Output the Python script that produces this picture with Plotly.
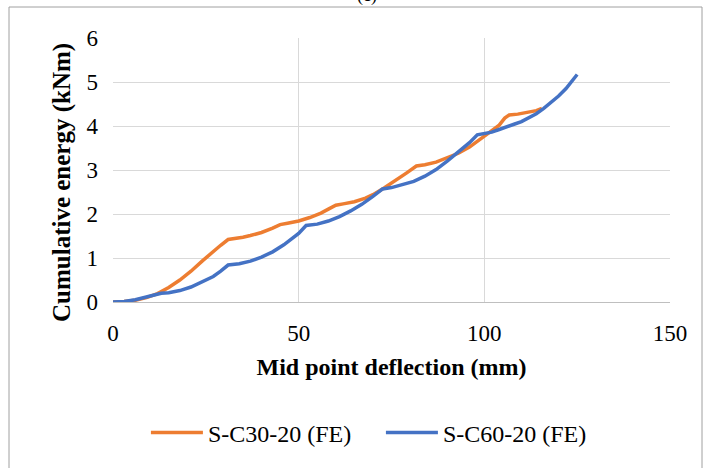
import plotly.graph_objects as go

# S-C30-20 (FE)
c30_x = [0, 3, 6, 9, 12, 15, 18, 21, 24, 27, 29, 31, 33, 35, 37, 40, 43, 45, 47,
         50, 53, 56, 58, 60, 62, 65, 68, 70, 73, 76, 79, 81.7, 84, 87, 90, 93, 96,
         98, 100, 102, 104, 105.5, 106.7, 109, 112, 114, 115.5]
c30_y = [0, 0.01, 0.04, 0.1, 0.19, 0.33, 0.5, 0.7, 0.93, 1.16, 1.29, 1.42, 1.44, 1.47, 1.51, 1.58, 1.68, 1.76, 1.79,
         1.84, 1.92, 2.02, 2.11, 2.2, 2.23, 2.28, 2.36, 2.44, 2.59, 2.75, 2.93, 3.09, 3.12, 3.18, 3.27, 3.38, 3.52,
         3.64, 3.76, 3.9, 4.02, 4.18, 4.25, 4.27, 4.31, 4.35, 4.4]

# S-C60-20 (FE)
c60_x = [0, 3, 6, 9, 12, 13, 15, 18, 21, 24, 27, 29, 31, 34, 37, 40, 43, 46, 48, 50, 52,
         55, 58, 61, 64, 67, 70, 72.6, 75, 78, 81, 84, 87, 90, 93, 96, 98.1,
         100, 102, 104, 106, 108, 110, 112, 114, 116, 118, 120, 122, 124, 125]
c60_y = [0, 0.01, 0.05, 0.11, 0.18, 0.2, 0.21, 0.26, 0.34, 0.45, 0.58, 0.7, 0.84, 0.87, 0.93, 1.02, 1.14, 1.3, 1.42, 1.56, 1.74,
         1.77, 1.84, 1.94, 2.07, 2.22, 2.4, 2.57, 2.6, 2.66, 2.74, 2.86, 3.01, 3.2, 3.4, 3.62, 3.8,
         3.82, 3.86, 3.92, 3.97, 4.04, 4.1, 4.18, 4.28, 4.4, 4.53, 4.68, 4.85, 5.05, 5.17]

x_ticks = [0, 50, 100, 150]
y_ticks = [0, 1, 2, 3, 4, 5, 6]

FONT = "Liberation Serif"

fig = go.Figure()
fig.add_trace(go.Scatter(x=c30_x, y=c30_y, mode="lines", name="S-C30-20 (FE)",
                         line=dict(color="#ED7D31", width=3.5)))
fig.add_trace(go.Scatter(x=c60_x, y=c60_y, mode="lines", name="S-C60-20 (FE)",
                         line=dict(color="#4472C4", width=3.5)))

fig.update_layout(
    width=710, height=468,
    paper_bgcolor="white", plot_bgcolor="white",
    margin=dict(l=113, r=40, t=38, b=166),
    font=dict(family=FONT, size=23, color="black"),
    showlegend=True,
    legend=dict(orientation="h", x=0.481, xanchor="center", y=-0.496, yanchor="middle",
                font=dict(family=FONT, size=24, color="black"), itemwidth=52,
                entrywidth=168, entrywidthmode="pixels"),
    xaxis=dict(range=[0, 150], tickvals=x_ticks, showgrid=True, gridcolor="#D9D9D9", gridwidth=1,
               zeroline=False, showline=True, linecolor="#BFBFBF", linewidth=1,
               ticks="", ticklabelstandoff=10,
               tickfont=dict(family=FONT, size=23, color="black"),
               title=dict(text="<b>Mid point deflection (mm)</b>", standoff=13,
                          font=dict(family=FONT, size=24, color="black"))),
    yaxis=dict(range=[0, 6], tickvals=y_ticks, showgrid=True, gridcolor="#D9D9D9", gridwidth=1,
               zeroline=False, showline=False, ticks="", ticklabelstandoff=14,
               tickfont=dict(family=FONT, size=23, color="black")),
    shapes=[dict(type="rect", xref="paper", yref="paper",
                 x0=(9 - 113) / 557, x1=(702 - 113) / 557, y0=-1.8, y1=1 + (38 - 7) / 264,
                 line=dict(color="#A0A0A0", width=1), fillcolor="rgba(0,0,0,0)", layer="below")],
    annotations=[
        dict(text="(c)", xref="paper", yref="paper", x=(367 - 113) / 557, y=1 + 42 / 264,
             showarrow=False, font=dict(family=FONT, size=18, color="black"),
             xanchor="center", yanchor="middle"),
        dict(text="<b>Cumulative energy (kNm)</b>", xref="paper", yref="paper",
             x=(62 - 113) / 557, y=(302 - 183) / 264, textangle=-90, showarrow=False,
             font=dict(family=FONT, size=25, color="black"),
             xanchor="center", yanchor="middle"),
    ],
)

fig.write_html("out.html", config={"displayModeBar": False},
               post_script="document.body.style.margin='0';document.body.style.padding='0';")
